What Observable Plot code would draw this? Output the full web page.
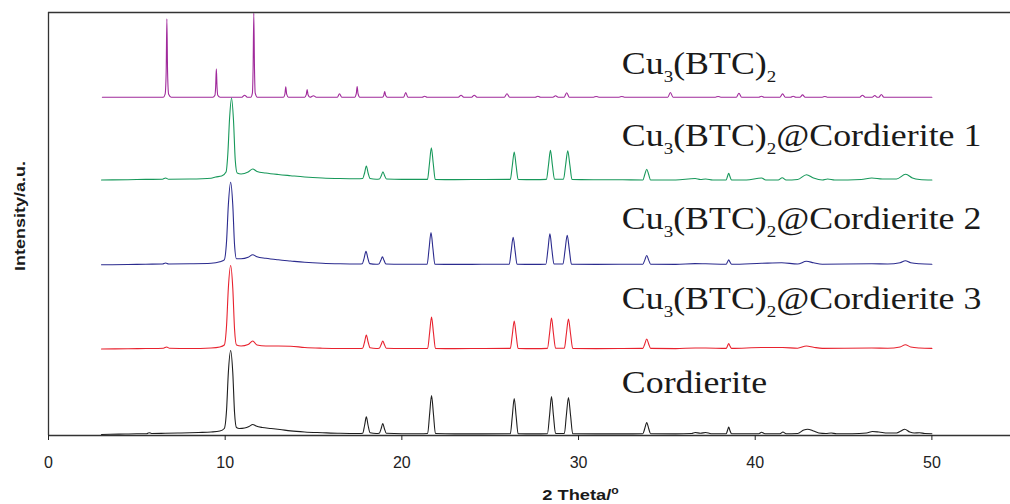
<!DOCTYPE html>
<html><head><meta charset="utf-8">
<script src="https://cdn.jsdelivr.net/npm/d3@7"></script>
<script src="https://cdn.jsdelivr.net/npm/@observablehq/plot@0.6"></script>
<style>html,body{margin:0;padding:0;background:#fff;} svg{display:block;}</style>
</head><body>
<script>
// ---------- data ----------
const sampleNames = ["Cordierite", "Cu3(BTC)2@Cordierite 3", "Cu3(BTC)2@Cordierite 2", "Cu3(BTC)2@Cordierite 1", "Cu3(BTC)2"];
const xTicks = [0, 10, 20, 30, 40, 50];
const xTitle = "2 Theta/o";
const yTitle = "Intensity/a.u.";

// [2θ, intensity above own baseline]
const cordierite = [
[3.0,0],[4.0,0.4],[5.0,0.8],[5.55,0.8],[5.69,1.8],[5.83,1],[6.6,1.2],[7.5,1.5],[8.5,2],[9.2,2.5],[9.7,3.5],[9.95,6],[10.08,25],[10.18,62],[10.31,84],[10.43,62],[10.53,22],[10.64,7],[10.8,6],[11.1,6.5],[11.35,8],[11.56,10],[11.75,8.5],[12.1,7],[12.6,6],[13.1,5],[13.7,3.6],[14.5,2.5],[15.5,1.8],[16.5,1.2],[17.6,1],
[17.78,1.2],[17.89,9],[17.99,17.6],[18.09,9],[18.2,1.8],[18.55,1],
[18.72,1.3],[18.83,6],[18.92,11],[19.01,6],[19.12,1.2],[20,0.8],[21,0.8],
[21.46,1],[21.57,20],[21.68,39],[21.79,20],[21.9,1],
[23,0.6],[24.5,0.6],[26.14,0.8],[26.25,18],[26.36,36],[26.47,18],[26.58,0.8],
[27.5,0.6],[28.24,0.8],[28.36,19],[28.47,38],[28.58,19],[28.7,1],
[29.2,1],[29.31,19],[29.43,37],[29.55,19],[29.67,0.8],
[31,0.6],[32.5,0.6],[33.64,0.8],[33.75,6],[33.86,12],[33.97,6],[34.08,0.8],
[35.5,0.6],[36.4,1],[36.6,2],[36.9,1.3],[37.2,2],[37.5,0.8],
[38.36,0.8],[38.43,4],[38.5,7.4],[38.57,4],[38.66,0.8],
[39.5,0.8],[40.2,0.8],[40.36,2.2],[40.55,0.8],[41.4,0.8],[41.57,2.5],[41.75,0.8],
[42.4,1],[42.75,4.5],[42.96,5.3],[43.3,3.5],[43.6,1.5],[44.0,1],[44.3,1.5],[44.6,0.8],
[45.5,0.8],[46.3,1.5],[46.64,3],[47.0,2.5],[47.5,1.5],[48.0,1.5],[48.25,3.5],[48.46,5.3],[48.75,2.5],[49.0,1.5],[49.3,1.8],[49.6,1],[50,0.8]
];
const cord3 = [
[3.0,0],[4.5,0.3],[5.5,0.5],[6.5,0.8],[6.69,2],[6.85,0.8],[8,0.5],[9.2,1],[9.7,2],[9.95,4],[10.08,24],[10.18,61],[10.31,83.5],[10.43,61],[10.53,20],[10.64,4],[10.9,3],[11.3,4.5],[11.56,8],[11.8,4],[12.3,3],[13.0,3],[13.7,2.8],[14.5,1.5],[15.5,0.8],[16.5,0.5],[17.6,0.5],
[17.78,0.8],[17.89,7],[17.99,14],[18.09,7],[18.2,1.2],[18.55,0.5],
[18.72,0.8],[18.83,4.5],[18.92,8],[19.01,4.5],[19.12,0.8],[20,0.5],[21,0.5],
[21.46,0.6],[21.57,16],[21.68,32],[21.79,16],[21.9,0.6],
[23,0.4],[24.5,0.5],[26.14,0.6],[26.25,14],[26.36,28],[26.47,14],[26.58,0.6],
[27.5,0.4],[28.24,0.6],[28.36,15.5],[28.47,31],[28.58,15.5],[28.7,0.8],
[29.2,0.8],[29.31,15],[29.43,30],[29.55,15],[29.67,0.6],
[31,0.4],[32.5,0.5],[33.64,0.6],[33.75,5],[33.86,10],[33.97,5],[34.08,0.6],
[35.5,0.4],[36.6,1],[37.2,1],[38.36,0.6],[38.43,3],[38.5,5.5],[38.57,3],[38.66,0.6],
[40.36,1.5],[41.55,1.5],[42.4,0.8],[42.9,3],[43.3,1.8],[43.8,0.6],[46.6,1],[47.5,0.8],[48.2,2],[48.5,4.3],[48.8,2],[49.3,1],[50,0.6]
];
const cord2 = [
[3.0,0],[4.5,0.3],[5.5,0.6],[6.45,0.8],[6.63,1.8],[6.8,0.8],[8,1],[9.2,1.5],[9.7,3],[9.95,5],[10.08,24],[10.18,60],[10.31,82.6],[10.43,60],[10.53,20],[10.64,6],[10.9,6],[11.3,7.5],[11.56,10],[11.8,8],[12.3,6.5],[13.0,5],[13.7,3.8],[14.5,2.5],[15.5,1.5],[16.5,1],[17.6,0.8],
[17.76,1],[17.87,7],[17.97,13.6],[18.07,7],[18.18,1.2],[18.55,0.6],
[18.7,0.8],[18.81,4.5],[18.9,8],[18.99,4.5],[19.1,0.8],[20,0.5],[21,0.5],
[21.43,0.6],[21.54,16],[21.65,32.3],[21.76,16],[21.87,0.6],
[23,0.4],[24.5,0.5],[26.08,0.6],[26.19,14],[26.3,27.6],[26.41,14],[26.52,0.6],
[27.5,0.4],[28.15,0.6],[28.27,15.5],[28.38,31],[28.49,15.5],[28.61,0.8],
[29.12,0.8],[29.24,15],[29.36,29.6],[29.48,15],[29.6,0.6],
[31,0.4],[32.5,0.5],[33.64,0.6],[33.75,4.7],[33.86,9.3],[33.97,4.7],[34.08,0.6],
[35.5,0.4],[36.6,1.2],[37.2,1],[38.36,0.6],[38.43,2.8],[38.5,5],[38.57,2.8],[38.66,0.6],
[40.36,1.5],[41.5,2],[42.4,0.8],[42.9,3.5],[43.3,2],[43.8,0.6],[46.6,1],[47.5,0.8],[48.2,2],[48.5,4],[48.8,2],[49.3,1],[50,0.6]
];
const cord1 = [
[3.0,0],[4.5,0.3],[5.5,0.6],[6.45,0.8],[6.63,2],[6.8,0.8],[8,1],[9.2,1.8],[9.46,3],[9.8,4],[10.05,8],[10.15,26],[10.25,62],[10.36,82],[10.47,60],[10.57,20],[10.68,7],[10.9,6],[11.3,8],[11.56,11],[11.8,8.5],[12.3,7],[13.0,5.5],[13.7,4.3],[14.5,3],[15.5,2],[16.5,1.5],[17.46,1.3],
[17.78,1.5],[17.89,7],[17.99,14],[18.09,7],[18.2,1.5],[18.55,0.8],
[18.73,1],[18.84,4.5],[18.93,8.3],[19.02,4.5],[19.13,1],[20,0.6],[21,0.6],
[21.45,0.6],[21.56,16],[21.67,32.3],[21.78,16],[21.89,0.6],
[23,0.4],[24.5,0.5],[26.14,0.6],[26.25,14],[26.36,28],[26.47,14],[26.58,0.6],
[27.5,0.4],[28.18,0.6],[28.3,15],[28.41,29.6],[28.52,15],[28.64,0.8],
[29.15,0.8],[29.27,15],[29.39,29.3],[29.51,15],[29.63,0.6],
[31,0.3],[32.5,0.2],[33.64,0],[33.75,5.5],[33.86,10.7],[33.97,5.5],[34.08,0],
[35.5,0],[36.6,1.5],[36.9,0.5],[37.2,1],[37.6,0],[38.36,0],[38.43,3.5],[38.5,6.7],[38.57,3.5],[38.66,0],
[39.5,0],[40.36,2],[40.6,0],[41.3,0],[41.53,2.3],[41.75,0],[42.4,0.5],[42.9,5.3],[43.3,2],[43.8,0],[44.1,1],[44.5,0],[46,0.5],[46.6,2],[47.2,1],[48,1],[48.52,5.7],[48.9,2],[49.3,0.5],[50,0]
];
const btc = [
[3.05,0],[6.5,0],[6.6,3],[6.66,25],[6.70,78.4],[6.74,25],[6.8,3],[6.95,0],
[9.3,0],[9.42,2],[9.46,10],[9.50,28.4],[9.54,10],[9.58,2],[9.72,0],
[10.95,0],[11.1,2],[11.25,0],
[11.45,0],[11.54,4],[11.58,28],[11.62,84],[11.66,28],[11.7,4],[11.82,0],
[13.3,0],[13.38,3],[13.43,10.4],[13.48,3],[13.58,0],
[14.5,0],[14.59,2.5],[14.64,7.7],[14.69,2.5],[14.8,0],[15.0,1.5],[15.15,0],
[16.35,0],[16.47,3.4],[16.6,0],
[17.33,0],[17.42,3.5],[17.47,10.7],[17.52,3.5],[17.62,0],
[18.9,0],[18.98,2],[19.03,5.7],[19.08,2],[19.18,0],
[20.1,0],[20.22,4.7],[20.34,0],
[21.15,0],[21.29,1],[21.43,0],
[23.2,0],[23.35,2],[23.5,0],
[23.95,0],[24.1,2],[24.25,0],
[25.8,0],[25.95,3.4],[26.1,0],
[27.55,0],[27.7,1],[27.85,0],
[28.55,0],[28.7,1.4],[28.85,0],
[29.18,0],[29.33,4.5],[29.48,0],
[30.85,0],[31.0,0.7],[31.15,0],
[32.3,0],[32.45,0.7],[32.6,0],
[35.05,0],[35.2,4.7],[35.35,0],
[37.75,0],[37.9,0.7],[38.05,0],
[38.93,0],[39.08,4],[39.23,0],
[40.2,0],[40.36,1],[40.5,0],
[41.4,0],[41.55,3.3],[41.7,0],
[42.0,0],[42.15,1],[42.3,0],
[42.53,0],[42.68,2.3],[42.83,0],
[43.8,0],[43.94,0.7],[44.08,0],
[45.92,0],[46.07,2],[46.22,0],
[46.62,0],[46.77,1.7],[46.9,0],
[47.0,0],[47.14,2.7],[47.28,0],
[50,0]
];
const series = [cordierite, cord3, cord2, cord1, btc];

// ---------- layout / style ----------
const stackOffset = [1, 86.5, 170.7, 255.5, 338.3];
const colors = ["#1e1e1e", "#e8222e", "#2b2b8e", "#17985a", "#a02a9b"];
const labelY = [53, 137, 217, 300, 372];

const rows = series.flatMap((s, i) => s.map(([t, v]) => ({t, v: v + stackOffset[i], name: sampleNames[i]})));

const chart = Plot.plot({
  width: 1010, height: 504,
  marginLeft: 48, marginRight: 0, marginTop: 12, marginBottom: 69,
  style: {fontFamily: "'Liberation Sans', Arial, sans-serif", fontSize: "16px", color: "#222", background: "#fff"},
  x: {domain: [0, 54.45]},
  y: {domain: [0, 423], axis: null},
  color: {domain: sampleNames, range: colors},
  marks: [
    Plot.line(rows, {x: "t", y: "v", z: "name", stroke: "name", strokeWidth: 1.1, curve: "monotone-x"}),
    Plot.ruleX([0], {stroke: "#333", strokeWidth: 1.3}),
    Plot.ruleY([0], {stroke: "#333", strokeWidth: 1.6}),
    Plot.ruleY([423], {stroke: "#333", strokeWidth: 1.3}),
    Plot.axisX({ticks: xTicks, tickSize: 5, tickPadding: 16, label: null, fontSize: 16}),
    Plot.text(sampleNames, {x: () => 32.45, y: (d, i) => labelY[i], text: d => d, textAnchor: "start",
      fontSize: 32, fontFamily: "'Liberation Serif', 'Times New Roman', serif", fill: "#1a1a1a"}),
    Plot.text([xTitle], {frameAnchor: "bottom", dx: 51, dy: 64, fontWeight: "bold", fontSize: 15, fill: "#1a1a1a"}),
    Plot.text([yTitle], {frameAnchor: "left", textAnchor: "middle", rotate: -90, dx: -28, dy: -8, fontWeight: "bold", fontSize: 15, fill: "#1a1a1a"})
  ]
});
document.body.appendChild(chart);

// ---------- typography post-processing (subscripts, stretched glyphs) ----------
function stretch(el, k) {
  const t = el.getAttribute("transform") || "";
  el.setAttribute("transform", t + ` scale(${k},1)`);
}
const NS = "http://www.w3.org/2000/svg";
chart.querySelectorAll("text").forEach(el => {
  const s = el.textContent;
  if (sampleNames.includes(s)) {
    const parts = s.split(/(?<=[u)])(\d)/);
    el.textContent = "";
    parts.forEach((p, j) => {
      if (!p) return;
      const ts = document.createElementNS(NS, "tspan");
      ts.textContent = p;
      if (j % 2 === 1) { ts.setAttribute("font-size", 17); ts.setAttribute("dy", 8); }
      else if (j > 0) { ts.setAttribute("dy", -8); }
      el.appendChild(ts);
    });
    stretch(el, 1.12);
  } else if (s === xTitle) {
    el.textContent = "";
    const a = document.createElementNS(NS, "tspan");
    a.textContent = "2 Theta/";
    const b = document.createElementNS(NS, "tspan");
    b.textContent = "o"; b.setAttribute("font-size", 10); b.setAttribute("dy", -6);
    el.append(a, b);
    stretch(el, 1.22);
  } else if (s === yTitle) {
    stretch(el, 1.2);
  }
});
</script>
</body></html>
